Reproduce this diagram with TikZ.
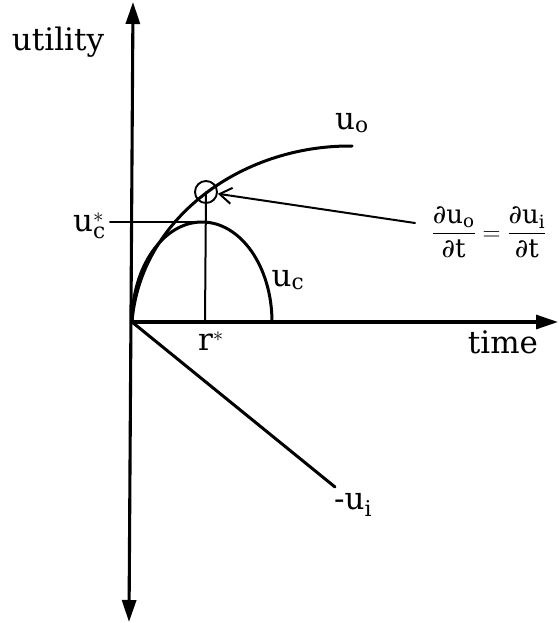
\documentclass[tikz,border=0pt]{standalone}
\usepackage{amsmath}
\usepackage{fontspec}
\setmainfont{DejaVu Serif}
\usetikzlibrary{arrows.meta,calc}

\begin{document}
\begin{tikzpicture}[x=1pt, y=-1pt, line cap=round, line join=round]
\tikzset{axtip/.tip={Triangle[length=22pt,width=14pt]},
  axis/.style={line width=3.1pt},
  curve/.style={line width=3pt},
  guide/.style={line width=2pt},
  lbl/.style={font=\fontsize{31}{36}\selectfont, inner sep=0pt}}
\useasboundingbox (0,0) rectangle (558,623);

% axes
\coordinate (O) at (132,322);
\coordinate (Ytop) at (133,2);
\coordinate (Ybot) at (129,622);
\coordinate (Xend) at (558,322);
\draw[axis,axtip-axtip] (Ybot) -- (Ytop);
\draw[axis,-axtip] (O) -- (Xend);

% axis labels
\node[lbl, anchor=base] (util) at (58,51) {utility};
\node[lbl, anchor=base] (time) at (503,353) {time};

% u_o and the tangency mark
\draw[curve] (O) .. controls (140,220) and (240,145) .. (352,146);
\node[draw, circle, minimum size=22pt, inner sep=0pt, line width=1.9pt] (mark) at (206,192) {};
\node[lbl] (uo) at (352,123) {$\text{u}_{\text{o}}$};

% u_c arch
\coordinate (peak) at (202,222);
\draw[curve] (O) arc[start angle=180, end angle=360, x radius=70, y radius=100];
\node[lbl] (uc) at (288,280) {$\text{u}_{\text{c}}$};

% optimum r*
\coordinate (ucline) at (110,222);
\coordinate (rfoot) at (205,322);
\draw[guide] (ucline) -- (peak);
\draw[guide] (rfoot) -- (mark.center);
\node[lbl, anchor=east] (ucs) at (106,226) {$\text{u}_{\text{c}}^{*}$};
\node[lbl, anchor=north] (rs) at (211,332) {$\text{r}^{*}$};

% marginal condition
\node[font=\fontsize{26}{30}\selectfont, inner sep=0pt] (eq) at (489,232)
  {$\dfrac{\text{∂u}_{\text{o}}}{\text{∂t}} = \dfrac{\text{∂u}_{\text{i}}}{\text{∂t}}$};
\coordinate (tail) at (415,223);
\draw[guide, -{Straight Barb[length=12pt,width=16pt]}] (tail) -- (mark);

% -u_i
\coordinate (uiend) at (335,487);
\draw[curve] (O) -- (uiend);
\node[lbl] (ui) at (353,505) {-$\text{u}_{\text{i}}$};
\end{tikzpicture}
\end{document}
